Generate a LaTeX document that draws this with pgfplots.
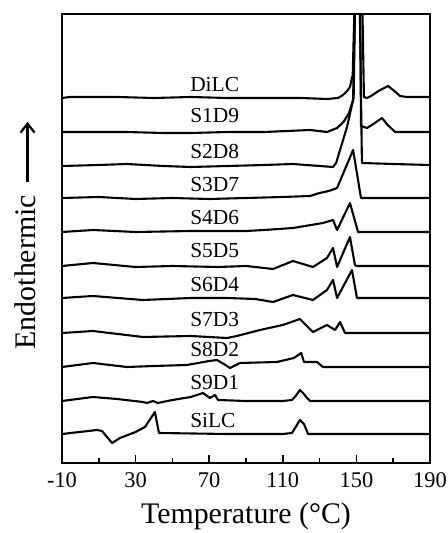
\documentclass[border=0pt]{standalone}
\usepackage{fontspec}
\setmainfont{Liberation Serif}
\usepackage{pgfplots}
\pgfplotsset{compat=1.18}
\usetikzlibrary{calc,arrows.meta}
\tikzset{label node/.style={font=\fontsize{21.5}{25}\selectfont, anchor=base west, inner sep=0pt}}

\begin{document}
\begin{tikzpicture}
\begin{axis}[
  scale only axis, width=368bp, height=449bp,
  xmin=-10, xmax=190, ymin=0, ymax=449,
  xtick={-10,30,70,110,150,190}, minor x tick num=1,
  ytick=\empty,
  xtick pos=bottom, tick align=inside,
  major tick length=8bp, minor tick length=5bp,
  every tick/.style={line width=1.6bp, black},
  axis line style={line width=2.5bp},
  /pgf/number format/assume math mode=true,
  xticklabel style={font=\fontsize{22.5}{26}\selectfont, anchor=base, yshift=-24bp},
  xlabel={Temperature (\textdegree C)},
  xlabel style={font=\fontsize{30}{34}\selectfont, at={(axis description cs:0.5,0)}, anchor=base, yshift=-60bp},
  ylabel={Endothermic\hspace{12bp}\tikz[baseline=-0.55ex]\draw[-{Straight Barb[length=9bp,width=14bp,line width=2.2bp]}, line width=2.4bp, black, solid] (0,0)--(60bp,0);},
  ylabel style={font=\fontsize{30}{34}\selectfont, at={(axis description cs:-0.1005,0.508)}, anchor=center},
  cycle list={{black}},
  every axis plot post/.style={black, solid, line width=2.1bp, line join=round, mark=none},
]
% DiLC
\addplot coordinates {(-10,365) (-5.7,366) (20,366) (40,365) (60,366) (80,365) (97.6,365) (120,365) (134,364) (140,365) (142.7,368) (145,372) (146.5,376) (148,388) (151.5,640) (154.1,366) (155.8,365) (158,367) (162,372) (167.2,377) (170,373) (173.7,367) (177.5,366) (190,366)};
% S1D9
\addplot coordinates {(-10,331) (10,331) (25,331) (45,330) (60,330) (80,331) (100,331) (124.8,333) (134,331) (139.5,335) (143,341) (146,350) (148.5,365) (151.2,700) (152.5,337) (155.8,335) (160,340) (163.9,345) (167,338) (169.9,333) (171,331) (190,331)};
% S2D8
\addplot coordinates {(-10,297) (10,298) (25.3,299) (45,297) (60,296) (80,297) (100,298) (115.5,299) (130,297) (137.3,296) (139,300) (141.1,313) (144.9,336) (148.2,363) (150.8,600) (153,300) (170,299) (190,298)};
% S3D7
\addplot coordinates {(-10,265) (10,266) (30,264) (50,265) (70,264) (90,265) (110,266) (124.8,267) (130,270) (135,272) (139.5,275) (148.2,313) (152.5,265) (160,265) (190,265)};
% S4D6
\addplot coordinates {(-10,231) (6.8,233) (30,231) (60,232) (90,232) (100,233) (115.5,235) (131.8,240) (137.3,243) (139.5,233) (146.5,260) (150.9,231) (190,231)};
% S5D5
\addplot coordinates {(-10,197) (6.8,200) (30,196) (50,197) (75,196) (90,197) (104.7,194) (115.5,202) (126.4,196) (134,205) (137.3,215) (139.5,196) (146.5,226) (149.2,198) (150,197) (190,197)};
% S6D4
\addplot coordinates {(-10,165) (6.8,167) (34,163) (60,165) (80,165) (95,164) (104.7,161) (115.5,168) (126.4,163) (134,173) (137.3,183) (139.5,165) (147.6,193) (150.3,165) (190,165)};
% S7D3
\addplot coordinates {(-10,130) (6.8,132) (34,126) (60,127) (79.7,125) (85,127) (97.6,133) (110,138) (119.3,144) (126.4,131) (134,138) (138.4,133) (141.1,141) (143.8,130) (190,130)};
% S8D2
\addplot coordinates {(-10,96) (6.8,100) (25.3,96) (40,97) (57.9,98) (70,102) (74.2,103) (78,99) (81.3,95) (86.7,100) (106.8,101) (116,105) (120,110) (121.5,101) (128.6,101) (131.8,96) (190,96)};
% S9D1
\addplot coordinates {(-10,62) (6.8,66) (20,64) (34,61) (36.2,60) (39.5,62) (42,60) (50,63) (60,66) (66.6,70) (70.4,65) (73.2,68) (74.8,63) (90,62) (110,62) (115,63) (117,67) (119.3,73) (121,70) (123.2,65) (124.8,62) (190,62)};
% SiLC
\addplot coordinates {(-10,29) (9.0,33) (11.7,32) (17.2,20) (21.5,25) (30,31) (35.1,36) (40.5,51) (42.7,30) (80,29) (110,29) (115,30) (117,36) (119.3,43) (121.5,39) (123.7,29) (190,29)};

\node[label node] at (axis cs:59.6,371) {DiLC};
\node[label node] at (axis cs:59.6,340) {S1D9};
\node[label node] at (axis cs:59.6,304) {S2D8};
\node[label node] at (axis cs:59.6,271) {S3D7};
\node[label node] at (axis cs:59.6,238) {S4D6};
\node[label node] at (axis cs:59.6,205) {S5D5};
\node[label node] at (axis cs:59.6,171) {S6D4};
\node[label node] at (axis cs:59.6,136) {S7D3};
\node[label node] at (axis cs:59.6,106) {S8D2};
\node[label node] at (axis cs:59.6,73) {S9D1};
\node[label node] at (axis cs:59.6,35) {SiLC};
\end{axis}
\pgfresetboundingbox
\path ($(current axis.south west)+(-62bp,-70bp)$) rectangle ($(current axis.north east)+(18bp,14bp)$);
\end{tikzpicture}
\end{document}
